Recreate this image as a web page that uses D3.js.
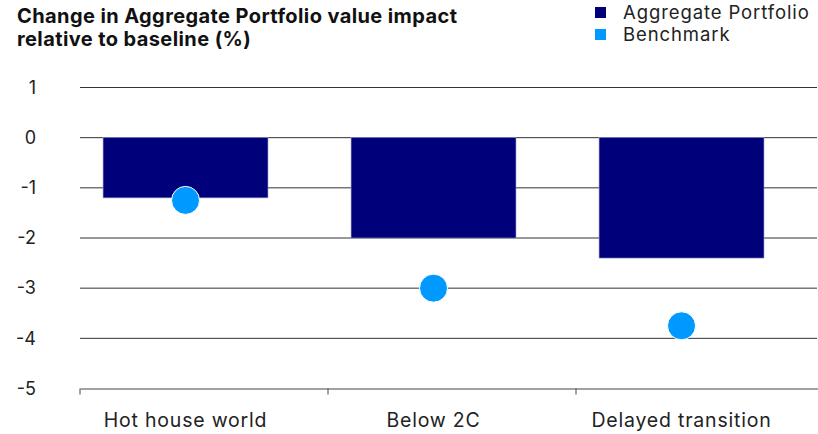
<!DOCTYPE html>
<html>
<head>
<meta charset="utf-8">
<script src="https://cdn.jsdelivr.net/npm/d3@7"></script>
<style>
  body { margin: 0; background: #fff; }
  text { font-family: Inter, "Noto Sans", sans-serif; }
</style>
</head>
<body>
<div id="fig"></div>
<script>
// chart data
var categories = ["Hot house world", "Below 2C", "Delayed transition"];
var portfolio = [-1.2, -2.0, -2.4];
var benchmark = [-1.25, -3.0, -3.75];
var yTicks = [1, 0, -1, -2, -3, -4, -5];
var seriesNames = ["Aggregate Portfolio", "Benchmark"];
var titleLines = ["Change in Aggregate Portfolio value impact", "relative to baseline (%)"];

var W = 818, H = 434;
var navy = "#00007a", blue = "#0099ff";

var svg = d3.select("#fig").append("svg")
    .attr("width", W)
    .attr("height", H);

// scales
var x = d3.scaleBand()
    .domain(categories)
    .range([80, 824])
    .padding(0);

var y = d3.scaleLinear()
    .domain([-5, 1])
    .range([388.5, 87.5]);

// bar sits left of band centre, keep offsets relative to band
var barOff = x.bandwidth() * 0.093,
    barW = x.bandwidth() * 0.665;

// gridlines
svg.append("g")
  .selectAll("line")
  .data(yTicks.filter(function(d) { return d > -5; }))
  .enter().append("line")
    .attr("x1", 80)
    .attr("x2", 817)
    .attr("y1", function(d) { return y(d); })
    .attr("y2", function(d) { return y(d); })
    .attr("stroke", "#333")
    .attr("stroke-width", 1);

// y tick labels
svg.append("g")
  .selectAll("text")
  .data(yTicks)
  .enter().append("text")
    .attr("x", 36)
    .attr("y", function(d) { return y(d); })
    .attr("dy", "0.35em")
    .attr("text-anchor", "end")
    .style("font-size", "18px")
    .style("fill", "#222")
    .text(function(d) { return d; });

// x axis
var xAxis = svg.append("g")
    .attr("transform", "translate(0," + y(-5) + ")")
    .call(d3.axisBottom(x).tickSize(6).tickSizeOuter(0).tickFormat(""));
xAxis.select(".domain").attr("stroke", "#444");
xAxis.selectAll(".tick line")
    .attr("stroke", "#444")
    .attr("transform", function() {
      return "translate(" + (-x.bandwidth() / 2) + ",0)";
    });

// category labels centred under bars
svg.append("g")
  .selectAll("text")
  .data(categories)
  .enter().append("text")
    .attr("x", function(d) { return x(d) + barOff + barW / 2; })
    .attr("y", 427)
    .attr("text-anchor", "middle")
    .style("font-size", "19.5px")
    .style("letter-spacing", "0.8px")
    .style("fill", "#222")
    .text(function(d) { return d; });

// bars
svg.append("g")
  .selectAll("rect")
  .data(categories)
  .enter().append("rect")
    .attr("x", function(d) { return x(d) + barOff; })
    .attr("y", y(0))
    .attr("width", barW)
    .attr("height", function(d, i) { return y(portfolio[i]) - y(0); })
    .attr("fill", navy)
    .attr("stroke", "#9a9ad0")
    .attr("stroke-width", 0.6);

// benchmark dots
svg.append("g")
  .selectAll("circle")
  .data(categories)
  .enter().append("circle")
    .attr("cx", function(d) { return x(d) + barOff + barW / 2; })
    .attr("cy", function(d, i) { return y(benchmark[i]); })
    .attr("r", 14)
    .attr("fill", blue)
    .attr("stroke", "#fff")
    .attr("stroke-width", 1);

// title
svg.append("text")
    .attr("x", 17)
    .attr("y", 22.5)
    .style("font-size", "20px")
    .style("font-weight", "700")
    .style("letter-spacing", "0.4px")
    .style("fill", "#111")
  .selectAll("tspan")
  .data(titleLines)
  .enter().append("tspan")
    .attr("x", 17)
    .attr("dy", function(d, i) { return i === 0 ? 0 : 23.5; })
    .text(function(d) { return d; });

// legend
var legColor = d3.scaleOrdinal().domain(seriesNames).range([navy, blue]);
var leg = svg.append("g")
  .selectAll("g")
  .data(seriesNames)
  .enter().append("g")
    .attr("transform", function(d, i) { return "translate(595," + (7 + i * 22) + ")"; });
leg.append("rect")
    .attr("width", 11)
    .attr("height", 11)
    .attr("fill", function(d) { return legColor(d); });
leg.append("text")
    .attr("x", 28)
    .attr("y", 12)
    .style("font-size", "18.5px")
    .style("letter-spacing", "0.9px")
    .style("fill", "#222")
    .text(function(d) { return d; });
</script>
</body>
</html>
